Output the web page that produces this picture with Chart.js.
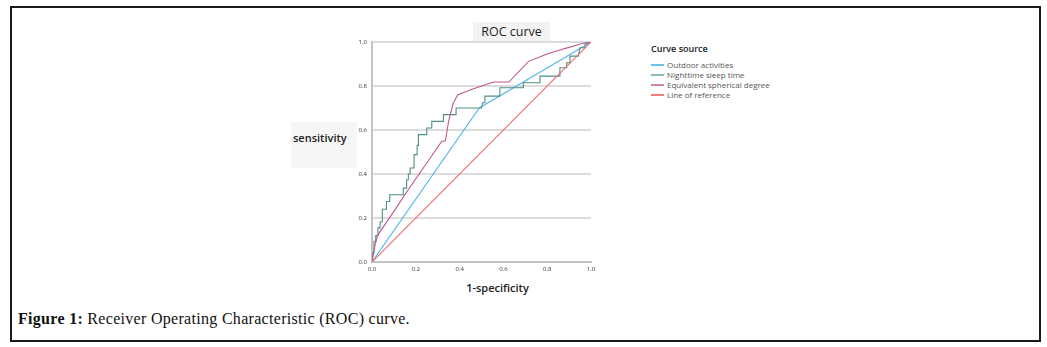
<!DOCTYPE html>
<html>
<head>
<meta charset="utf-8">
<script src="https://cdn.jsdelivr.net/npm/chart.js@4.4.1/dist/chart.umd.min.js"></script>
<style>
  body { margin: 0; background: #fff; }
  #wrap { position: relative; width: 1047px; height: 347px; overflow: hidden; }
  #frame { position: absolute; left: 10px; top: 6px; width: 1027px; height: 332px; border: 2px solid #1a1a1a; }
  #roc { position: absolute; left: 0; top: 0; }
  .lbl { position: absolute; font-family: "Open Sans", sans-serif; color: #222; white-space: nowrap; }
  #title { left: 473px; top: 22px; width: 77px; height: 20px; background: #f3f3f3; font-size: 12.5px; line-height: 20px; text-align: center; }
  #ylab { left: 291px; top: 122px; width: 64px; height: 46px; background: #f6f6f6; font-size: 11px; font-weight: 600; padding-left: 2px; line-height: 32px; }
  #xlab { left: 440px; top: 280px; width: 115px; font-size: 11px; font-weight: 600; text-align: center; }
  #legend { left: 651px; top: 42px; width: 130px; height: 60px; font-size: 8px; color: #555; }
  #legend .head { position: absolute; left: 0; top: 0; font-size: 9px; font-weight: 600; color: #222; }
  #legend .item { position: absolute; left: 16px; height: 10px; line-height: 10px; }
  #legend .sw { position: absolute; left: 0; width: 13px; height: 2px; }
  #caption { position: absolute; left: 18px; top: 310px; font-family: "Liberation Serif", serif; font-size: 16px; letter-spacing: 0.3px; color: #111; }
</style>
</head>
<body>
<div id="wrap">
  <div id="frame"></div>
  <div class="lbl" id="title">ROC curve</div>
  <div class="lbl" id="ylab">sensitivity</div>
  <div class="lbl" id="xlab">1-specificity</div>
  <div class="lbl" id="legend"></div>
  <div id="caption"><b>Figure 1:</b> Receiver Operating Characteristic (ROC) curve.</div>
  <canvas id="roc" width="1047" height="347"></canvas>
</div>
<script>
// values
const seriesNames = ['Outdoor activities', 'Nighttime sleep time', 'Equivalent spherical degree', 'Line of reference'];
const seriesColors = ['#55b6ec', '#4f8f88', '#c0568a', '#f26a6a'];
const legendColors = ['#6cc0f0', '#8cbcb2', '#cf84a8', '#f47c7c'];

const outdoorX = [0, 0.49, 1];
const outdoorY = [0, 0.70, 1];

const sleepX = [0, 0.002, 0.009, 0.009, 0.017, 0.017, 0.027, 0.027, 0.037, 0.037, 0.047, 0.047, 0.066, 0.066, 0.081, 0.081,
  0.143, 0.143, 0.158, 0.158, 0.166, 0.166, 0.174, 0.174, 0.192, 0.192, 0.206, 0.206, 0.212, 0.212, 0.25, 0.25, 0.273, 0.273,
  0.326, 0.326, 0.384, 0.384, 0.50, 0.505, 0.516, 0.516, 0.584, 0.584, 0.691, 0.691, 0.767, 0.767, 0.858, 0.858, 0.889, 0.889,
  0.904, 0.904, 0.942, 0.95, 0.973, 0.973, 1];
const sleepY = [0, 0.04, 0.04, 0.094, 0.094, 0.12, 0.12, 0.155, 0.155, 0.182, 0.182, 0.24, 0.24, 0.275, 0.275, 0.306,
  0.306, 0.336, 0.336, 0.374, 0.374, 0.40, 0.40, 0.427, 0.427, 0.488, 0.488, 0.53, 0.53, 0.579, 0.579, 0.609, 0.609, 0.639,
  0.639, 0.67, 0.67, 0.70, 0.70, 0.724, 0.724, 0.754, 0.754, 0.792, 0.792, 0.815, 0.815, 0.845, 0.845, 0.883, 0.883, 0.906,
  0.906, 0.936, 0.936, 0.974, 0.974, 0.992, 1];

const seX = [0, 0.01, 0.025, 0.10, 0.17, 0.25, 0.318, 0.335, 0.35, 0.37, 0.392, 0.47, 0.555, 0.625, 0.715, 0.80, 0.88, 0.96, 1];
const seY = [0, 0.06, 0.12, 0.23, 0.335, 0.45, 0.548, 0.551, 0.64, 0.72, 0.76, 0.79, 0.818, 0.818, 0.912, 0.945, 0.97, 0.993, 1];

const refX = [0, 1];
const refY = [0, 1];

const tickValues = [0, 0.2, 0.4, 0.6, 0.8, 1.0];

function toPoints(xs, ys) {
    return xs.map((x, i) => ({ x: x, y: ys[i] }));
}

const allSeries = [[outdoorX, outdoorY], [sleepX, sleepY], [seX, seY], [refX, refY]];

// html legend, the chart one sits too far off to place
const legend = document.getElementById('legend');
let html = '<div class="head">Curve source</div>';
seriesNames.forEach((name, i) => {
    const top = 18 + i * 10;
    html += '<div class="sw" style="top:' + (top + 4) + 'px;background:' + legendColors[i] + '"></div>';
    html += '<div class="item" style="top:' + top + 'px">' + name + '</div>';
});
legend.innerHTML = html;

const ctx = document.getElementById('roc').getContext('2d');
new Chart(ctx, {
    type: 'scatter',
    data: {
        datasets: allSeries.map((s, i) => ({
            label: seriesNames[i],
            data: toPoints(s[0], s[1]),
            showLine: true,
            borderColor: seriesColors[i],
            backgroundColor: seriesColors[i],
            borderWidth: 1.1,
            pointRadius: 0,
            tension: 0
        })).reverse()
    },
    options: {
        responsive: false,
        animation: false,
        events: [],
        layout: { padding: { left: 350, top: 42, right: 456, bottom: 69 } },
        plugins: { legend: { display: false }, tooltip: { enabled: false } },
        scales: {
            x: {
                type: 'linear', min: 0, max: 1,
                afterFit: (scale) => { scale.height = 16; },
                afterBuildTicks: (scale) => { scale.ticks = tickValues.map(v => ({ value: v })); },
                grid: { display: false, drawTicks: false },
                border: { color: '#c4c4c4', width: 2 },
                ticks: { padding: 4, color: '#333', font: { family: 'Open Sans', size: 6 }, callback: v => v.toFixed(1) }
            },
            y: {
                type: 'linear', min: 0, max: 1,
                afterFit: (scale) => { scale.width = 22; },
                afterBuildTicks: (scale) => { scale.ticks = tickValues.map(v => ({ value: v })); },
                grid: { color: '#dcdcdc', lineWidth: 2, drawTicks: false },
                border: { color: '#c4c4c4', width: 2 },
                ticks: { padding: 5, color: '#333', font: { family: 'Open Sans', size: 6 }, callback: v => v.toFixed(1) }
            }
        }
    }
});
</script>
</body>
</html>
